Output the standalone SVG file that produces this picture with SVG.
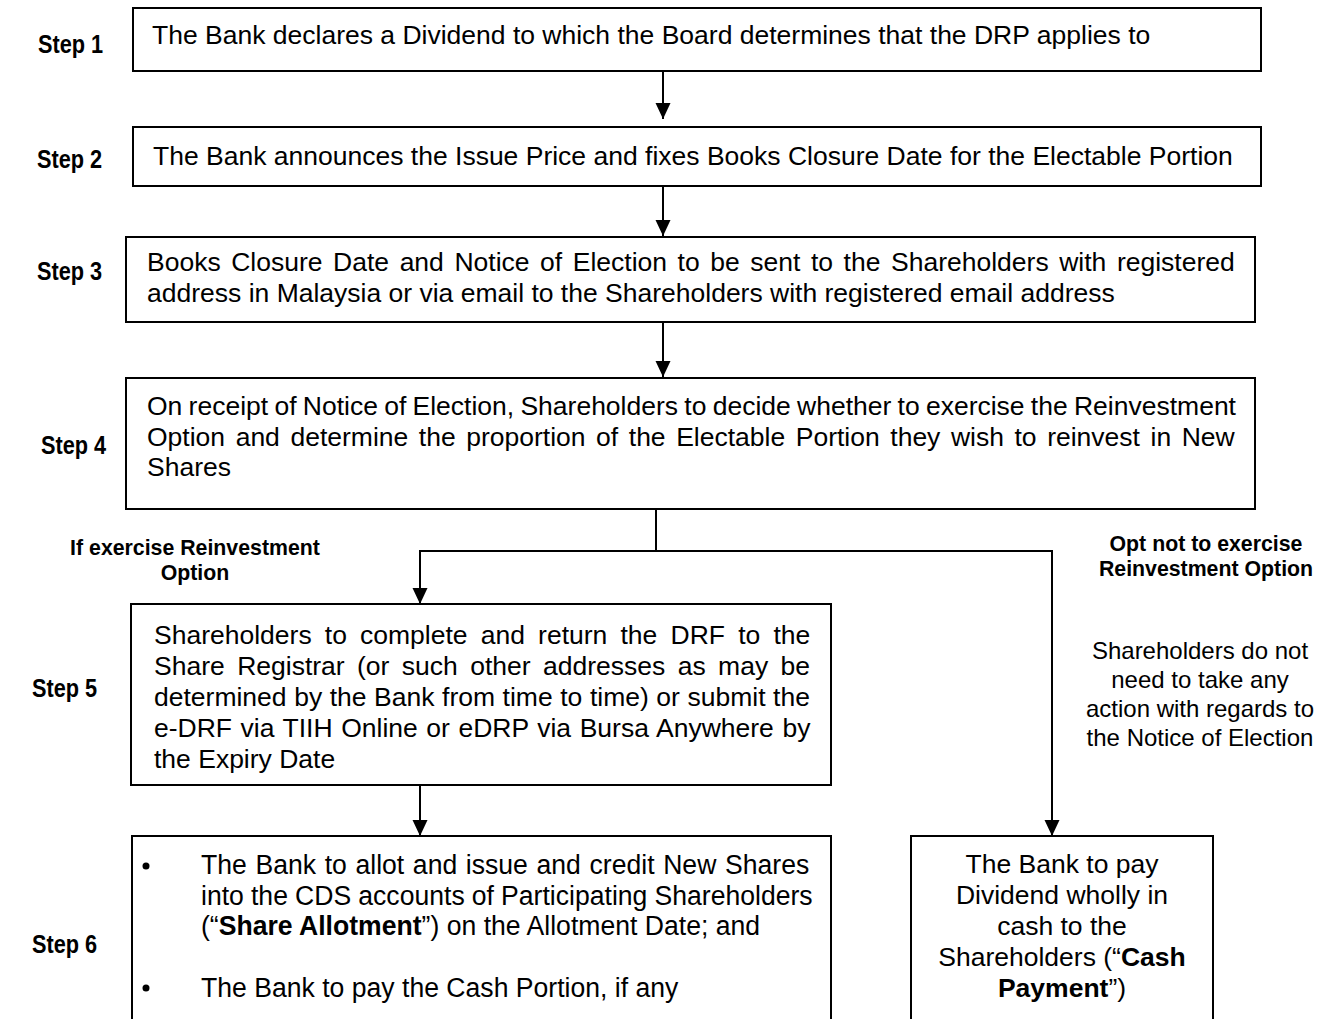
<svg xmlns="http://www.w3.org/2000/svg" width="1333" height="1019" viewBox="0 0 1333 1019">
<defs>
<marker id="arr" markerUnits="userSpaceOnUse" markerWidth="16" markerHeight="16" refX="16" refY="7.5" orient="auto">
<path d="M0,0 L16,7.5 L0,15 Z" fill="#000"/>
</marker>
<style>
.box{fill:#fff;stroke:#000;stroke-width:2}
.con{fill:none;stroke:#000;stroke-width:2}
.t{font-family:"Liberation Sans",Arial,sans-serif;font-size:26.5px;fill:#000}
.n{font-family:"Liberation Sans",Arial,sans-serif;font-size:28px;fill:#000}
.step{font-family:"Liberation Sans",Arial,sans-serif;font-size:26.5px;font-weight:bold;fill:#000}
.lbl{font-family:"Liberation Sans",Arial,sans-serif;font-size:21.3px;font-weight:bold;fill:#000;text-anchor:middle}
.side{font-family:"Liberation Sans",Arial,sans-serif;font-size:24px;fill:#000;text-anchor:middle}
.c{text-anchor:middle}
</style>
</defs>
<rect width="1333" height="1019" fill="#fff"/>

<g id="connectors">
<line class="con" x1="663" y1="71" x2="663" y2="119" marker-end="url(#arr)"/>
<line class="con" x1="663" y1="186" x2="663" y2="236" marker-end="url(#arr)"/>
<line class="con" x1="663" y1="322" x2="663" y2="377" marker-end="url(#arr)"/>
<polyline class="con" points="656,509 656,551"/>
<polyline class="con" points="1052,551 420,551 420,604" marker-end="url(#arr)"/>
<polyline class="con" points="656,551 1052,551 1052,836" marker-end="url(#arr)"/>
<line class="con" x1="420" y1="785" x2="420" y2="836" marker-end="url(#arr)"/>
</g>

<g id="step1">
<text class="step" transform="translate(38,53) scale(0.82,1)">Step 1</text>
<rect class="box" x="133" y="8" width="1128" height="63"/>
<text class="t" x="152" y="44">The Bank declares a Dividend to which the Board determines that the DRP applies to</text>
</g>

<g id="step2">
<text class="step" transform="translate(37,168) scale(0.82,1)">Step 2</text>
<rect class="box" x="133" y="127" width="1128" height="59"/>
<text class="t" x="153" y="165">The Bank announces the Issue Price and fixes Books Closure Date for the Electable Portion</text>
</g>

<g id="step3">
<text class="step" transform="translate(37,280) scale(0.82,1)">Step 3</text>
<rect class="box" x="126" y="237" width="1129" height="85"/>
<text class="t" x="147" y="271" word-spacing="3.2">Books Closure Date and Notice of Election to be sent to the Shareholders with registered</text>
<text class="t" x="147" y="302">address in Malaysia or via email to the Shareholders with registered email address</text>
</g>

<g id="step4">
<text class="step" transform="translate(41,454) scale(0.82,1)">Step 4</text>
<rect class="box" x="126" y="378" width="1129" height="131"/>
<text class="t" x="147" y="415" word-spacing="-1.1">On receipt of Notice of Election, Shareholders to decide whether to exercise the Reinvestment</text>
<text class="t" x="147" y="446" word-spacing="3.2">Option and determine the proportion of the Electable Portion they wish to reinvest in New</text>
<text class="t" x="147" y="476">Shares</text>
</g>

<g id="label-exercise">
<text class="lbl" x="195" y="555">If exercise Reinvestment</text>
<text class="lbl" x="195" y="580">Option</text>
</g>

<g id="label-optnot">
<text class="lbl" x="1206" y="551">Opt not to exercise</text>
<text class="lbl" x="1206" y="576">Reinvestment Option</text>
</g>

<g id="step5">
<text class="step" transform="translate(32,697) scale(0.82,1)">Step 5</text>
<rect class="box" x="131" y="604" width="700" height="181"/>
<text class="t" x="154" y="644" word-spacing="5.8">Shareholders to complete and return the DRF to the</text>
<text class="t" x="154" y="675" word-spacing="5.05">Share Registrar (or such other addresses as may be</text>
<text class="t" x="154" y="706" word-spacing="0.2">determined by the Bank from time to time) or submit the</text>
<text class="t" x="154" y="737" word-spacing="1.2">e-DRF via TIIH Online or eDRP via Bursa Anywhere by</text>
<text class="t" x="154" y="768">the Expiry Date</text>
</g>

<g id="side-note">
<text class="side" x="1200" y="659">Shareholders do not</text>
<text class="side" x="1200" y="688">need to take any</text>
<text class="side" x="1200" y="717">action with regards to</text>
<text class="side" x="1200" y="746">the Notice of Election</text>
</g>

<g id="step6">
<text class="step" transform="translate(32,953) scale(0.82,1)">Step 6</text>
<rect class="box" x="132" y="836" width="699" height="200"/>
<circle cx="146" cy="866" r="3.5" fill="#000"/>
<text class="n" transform="translate(201,874) scale(0.95,1)" word-spacing="1.3">The Bank to allot and issue and credit New Shares</text>
<text class="n" transform="translate(201,905) scale(0.95,1)" word-spacing="-0.3">into the CDS accounts of Participating Shareholders</text>
<text class="n" transform="translate(201,935) scale(0.95,1)">(“<tspan font-weight="bold">Share Allotment</tspan>”) on the Allotment Date; and</text>
<circle cx="146" cy="988" r="3.5" fill="#000"/>
<text class="n" transform="translate(201,997) scale(0.95,1)">The Bank to pay the Cash Portion, if any</text>
</g>

<g id="cash-payment">
<rect class="box" x="911" y="836" width="302" height="200"/>
<text class="t c" x="1062" y="873">The Bank to pay</text>
<text class="t c" x="1062" y="904">Dividend wholly in</text>
<text class="t c" x="1062" y="935">cash to the</text>
<text class="t c" x="1062" y="966">Shareholders (“<tspan font-weight="bold">Cash</tspan></text>
<text class="t c" x="1062" y="997"><tspan font-weight="bold">Payment</tspan>”)</text>
</g>
</svg>
